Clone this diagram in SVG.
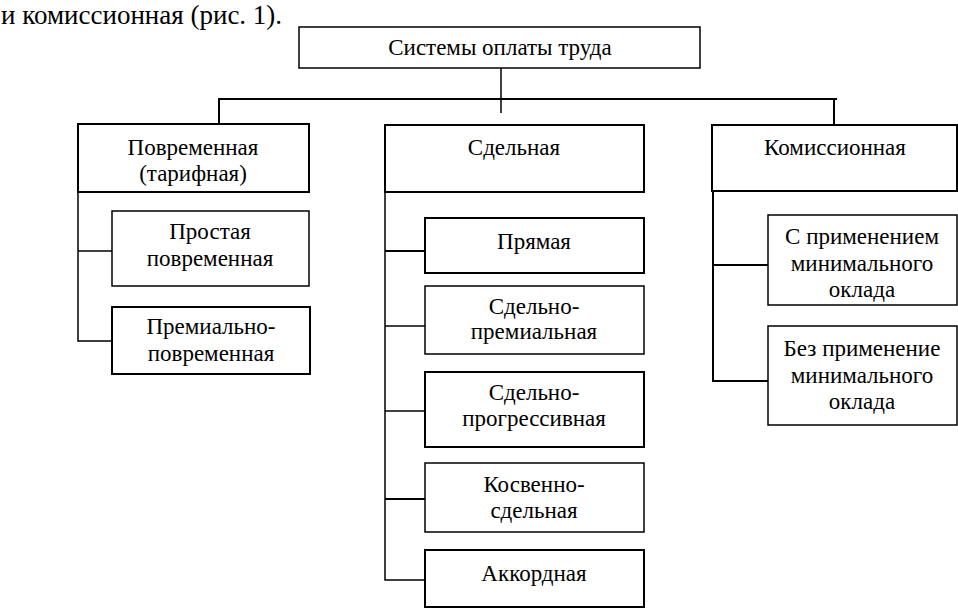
<svg xmlns="http://www.w3.org/2000/svg" width="958" height="608" viewBox="0 0 958 608" font-family="Liberation Serif, Times New Roman, serif">
<style>
text{font-family:"Liberation Serif","Times New Roman",serif;font-size:23px;fill:#000;text-anchor:middle}
.hdr{font-size:27px;text-anchor:start}
rect{fill:#fff;stroke:#000;stroke-width:1.5}
rect.b{stroke-width:2}
.c line,.c polyline{stroke:#000;stroke-width:1.5;fill:none}
.c .t{stroke-width:2}
</style>
<rect x="0" y="0" width="958" height="608" style="stroke:none"/>
<text class="hdr" x="1" y="24">и комиссионная (рис. 1).</text>
<g class="c" id="connectors">
<line x1="501" y1="68" x2="501" y2="113"/>
<polyline class="t" points="219,124 219,99 837,99"/>
<line class="t" x1="834" y1="99" x2="834" y2="125"/>
<polyline points="78,192 78,341 112,341"/>
<line x1="78" y1="251" x2="112" y2="251"/>
<polyline points="385,192 385,580 425,580"/>
<line class="t" x1="385" y1="251" x2="425" y2="251"/>
<line x1="385" y1="326" x2="425" y2="326"/>
<line x1="385" y1="411" x2="425" y2="411"/>
<line class="t" x1="385" y1="499" x2="425" y2="499"/>
<polyline class="t" points="713,191 713,381 768,381"/>
<line class="t" x1="713" y1="265" x2="768" y2="265"/>
</g>
<g id="root"><rect x="299" y="27" width="401" height="41"/><text x="500" y="55">Системы оплаты труда</text></g>
<g id="povremennaya"><rect class="b" x="78" y="124" width="231" height="68"/><text x="193" y="155">Повременная</text><text x="193" y="181">(тарифная)</text></g>
<g id="sdelnaya"><rect class="b" x="385" y="125" width="259" height="67"/><text x="514" y="155">Сдельная</text></g>
<g id="komissionnaya"><rect class="b" x="712" y="125" width="245" height="66"/><text x="835" y="155">Комиссионная</text></g>
<g id="prostaya"><rect x="112" y="211" width="197" height="75"/><text x="210" y="239">Простая</text><text x="210" y="266">повременная</text></g>
<g id="premialno"><rect class="b" x="112" y="307" width="198" height="67"/><text x="211" y="334">Премиально-</text><text x="211" y="361">повременная</text></g>
<g id="pryamaya"><rect class="b" x="425" y="218" width="219" height="55"/><text x="534" y="249">Прямая</text></g>
<g id="sdelno-prem"><rect x="425" y="286" width="219" height="68"/><text x="534" y="314">Сдельно-</text><text x="534" y="339">премиальная</text></g>
<g id="sdelno-prog"><rect class="b" x="425" y="372" width="219" height="75"/><text x="534" y="400">Сдельно-</text><text x="534" y="426">прогрессивная</text></g>
<g id="kosvenno"><rect x="425" y="463" width="219" height="69"/><text x="534" y="492">Косвенно-</text><text x="534" y="518">сдельная</text></g>
<g id="akkord"><rect class="b" x="425" y="550" width="219" height="57"/><text x="534" y="581">Аккордная</text></g>
<g id="s-prim"><rect x="768" y="215" width="189" height="90"/><text x="862" y="244">С применением</text><text x="862" y="271">минимального</text><text x="862" y="297">оклада</text></g>
<g id="bez-prim"><rect x="768" y="326" width="189" height="99"/><text x="862" y="356">Без применение</text><text x="862" y="383">минимального</text><text x="862" y="409">оклада</text></g>
</svg>
